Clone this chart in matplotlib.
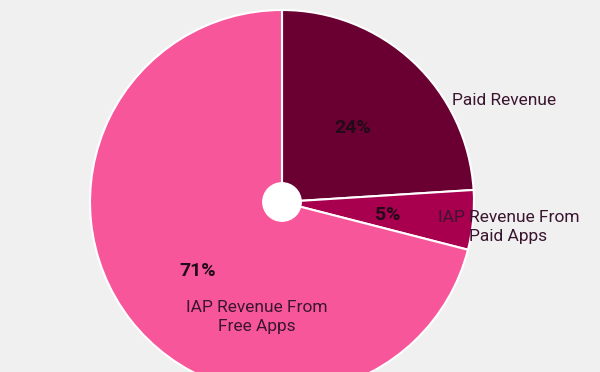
import matplotlib.pyplot as plt

labels = ['Paid Revenue', 'IAP Revenue From\nPaid Apps', 'IAP Revenue From\nFree Apps']
shares = [24, 5, 71]
colors = ['#6a0032', '#a8004f', '#f7579a']

plt.rcParams['font.family'] = ['Roboto', 'DejaVu Sans']

fig = plt.figure(figsize=(6, 3.72), dpi=100)
fig.patch.set_facecolor('#f0f0f0')
# axes sized so the pie (radius 1) lands where it does in the picture
ax = fig.add_axes([90 / 600, -22 / 372, 384 / 600, 384 / 372])
ax.set_facecolor('none')

wedges, _ = ax.pie(shares, colors=colors, startangle=90, counterclock=False,
                   wedgeprops=dict(edgecolor='white', linewidth=1.5))
ax.add_patch(plt.Circle((0, 0), 0.1, color='white', zorder=5))
ax.set_xlim(-1, 1)
ax.set_ylim(-1, 1)
ax.set_aspect('equal')
ax.axis('off')

pct_pos = [(0.37, 0.385), (0.55, -0.07), (-0.44, -0.36)]
lab_pos = [(1.155, 0.53), (1.18, -0.13), (-0.13, -0.60)]
for s, lab, pp, lp in zip(shares, labels, pct_pos, lab_pos):
    ax.text(pp[0], pp[1], f'{s}%', ha='center', va='center', fontsize=14,
            fontweight='bold', color='#220a18', clip_on=False)
    ax.text(lp[0], lp[1], lab, ha='center', va='center', fontsize=12.5,
            color='#3a1530', multialignment='center',
            linespacing=1.35, clip_on=False)

fig.savefig('out.png', dpi=100, facecolor=fig.get_facecolor())
